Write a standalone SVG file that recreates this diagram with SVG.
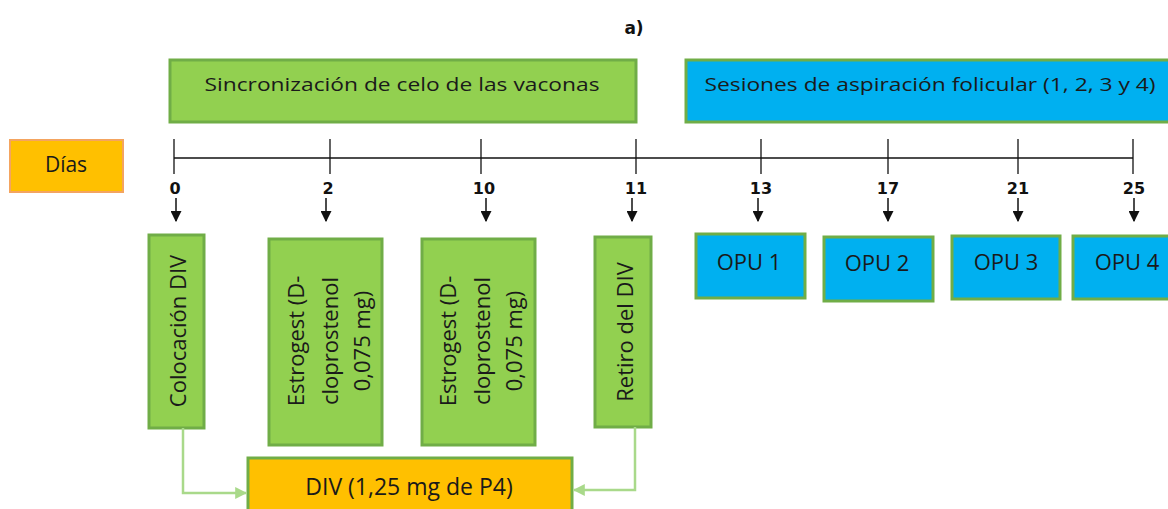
<svg xmlns="http://www.w3.org/2000/svg" width="1168" height="509" viewBox="0 0 1168 509">
  <style>
    .lbl { font-family: "Open Sans", "Noto Sans", sans-serif; font-size: 18px; fill: #1a1a1a; }
    .big { font-size: 22px; }
    .num { font-family: "DejaVu Sans", "Liberation Sans", sans-serif; font-size: 16px; font-weight: bold; fill: #111; }
    .green { fill: #92d050; stroke: #70ad47; stroke-width: 3; }
    .blue { fill: #00b0f0; stroke: #70ad47; stroke-width: 3; }
    .orange { fill: #ffc000; stroke: #f4a460; stroke-width: 2; }
    .div { fill: #ffc000; stroke: #70ad47; stroke-width: 3; }
    .axis { stroke: #111; stroke-width: 1.3; fill: none; }
    .down { stroke: #111; stroke-width: 1.5; fill: none; marker-end: url(#tri); }
    .link { stroke: #a9d98a; stroke-width: 2.5; fill: none; marker-end: url(#tri-green); }
  </style>
  <defs>
    <marker id="tri" viewBox="0 0 10 10" refX="9" refY="5" markerWidth="11" markerHeight="11" markerUnits="userSpaceOnUse" orient="auto">
      <path d="M0,0 L10,5 L0,10 z" fill="#111"/>
    </marker>
    <marker id="tri-green" viewBox="0 0 10 10" refX="9" refY="5" markerWidth="12" markerHeight="12" markerUnits="userSpaceOnUse" orient="auto">
      <path d="M0,0 L10,5 L0,10 z" fill="#a9d98a"/>
    </marker>
  </defs>

  <rect width="1168" height="509" fill="#ffffff"/>

  <text class="num" x="634" y="34" text-anchor="middle" style="font-size:17px">a)</text>

  <!-- phase headers -->
  <g id="sincronizacion">
    <rect class="green" x="170" y="60" width="466" height="62"/>
    <text class="lbl" x="402" y="91" text-anchor="middle" textLength="395" lengthAdjust="spacingAndGlyphs">Sincronización de celo de las vaconas</text>
  </g>
  <g id="sesiones">
    <rect class="blue" x="686" y="60" width="490" height="62"/>
    <text class="lbl" x="930" y="91" text-anchor="middle" textLength="451" lengthAdjust="spacingAndGlyphs">Sesiones de aspiración folicular (1, 2, 3 y 4)</text>
  </g>

  <g id="dias">
    <rect class="orange" x="10" y="140" width="113" height="52"/>
    <text class="lbl" x="66" y="172" text-anchor="middle" style="font-size:21px">Días</text>
  </g>

  <!-- timeline -->
  <g id="timeline">
    <line class="axis" x1="174" y1="158" x2="1133" y2="158"/>
    <line class="axis" x1="174" y1="139" x2="174" y2="174"/>
    <line class="axis" x1="330" y1="139" x2="330" y2="174"/>
    <line class="axis" x1="481" y1="139" x2="481" y2="174"/>
    <line class="axis" x1="636" y1="139" x2="636" y2="174"/>
    <line class="axis" x1="761" y1="139" x2="761" y2="174"/>
    <line class="axis" x1="888" y1="139" x2="888" y2="174"/>
    <line class="axis" x1="1018" y1="139" x2="1018" y2="174"/>
    <line class="axis" x1="1133" y1="139" x2="1133" y2="174"/>
    <text class="num" x="175" y="194" text-anchor="middle">0</text>
    <text class="num" x="328" y="194" text-anchor="middle">2</text>
    <text class="num" x="484" y="194" text-anchor="middle">10</text>
    <text class="num" x="636" y="194" text-anchor="middle">11</text>
    <text class="num" x="761" y="194" text-anchor="middle">13</text>
    <text class="num" x="888" y="194" text-anchor="middle">17</text>
    <text class="num" x="1018" y="194" text-anchor="middle">21</text>
    <text class="num" x="1134" y="194" text-anchor="middle">25</text>
  </g>

  <!-- event boxes -->
  <g id="colocacion">
    <rect class="green" x="149" y="235" width="55" height="193"/>
    <text class="lbl big" transform="translate(186,331) rotate(-90)" text-anchor="middle">Colocación DIV</text>
  </g>
  <g id="estrogest-1">
    <rect class="green" x="269" y="239" width="113" height="206"/>
    <text class="lbl big" transform="translate(304,341) rotate(-90)" text-anchor="middle">Estrogest (D-</text>
    <text class="lbl big" transform="translate(338,341) rotate(-90)" text-anchor="middle">cloprostenol</text>
    <text class="lbl big" transform="translate(370,341) rotate(-90)" text-anchor="middle">0,075 mg)</text>
  </g>
  <g id="estrogest-2">
    <rect class="green" x="422" y="239" width="113" height="206"/>
    <text class="lbl big" transform="translate(456,341) rotate(-90)" text-anchor="middle">Estrogest (D-</text>
    <text class="lbl big" transform="translate(490,341) rotate(-90)" text-anchor="middle">cloprostenol</text>
    <text class="lbl big" transform="translate(522,341) rotate(-90)" text-anchor="middle">0,075 mg)</text>
  </g>
  <g id="retiro">
    <rect class="green" x="595" y="237" width="56" height="190"/>
    <text class="lbl big" transform="translate(633,332) rotate(-90)" text-anchor="middle">Retiro del DIV</text>
  </g>

  <g id="opu-1">
    <rect class="blue" x="696" y="234" width="109" height="64"/>
    <text class="lbl big" x="749" y="270" text-anchor="middle">OPU 1</text>
  </g>
  <g id="opu-2">
    <rect class="blue" x="824" y="237" width="109" height="64"/>
    <text class="lbl big" x="877" y="271" text-anchor="middle">OPU 2</text>
  </g>
  <g id="opu-3">
    <rect class="blue" x="952" y="236" width="108" height="63"/>
    <text class="lbl big" x="1006" y="270" text-anchor="middle">OPU 3</text>
  </g>
  <g id="opu-4">
    <rect class="blue" x="1073" y="236" width="110" height="63"/>
    <text class="lbl big" x="1127" y="270" text-anchor="middle">OPU 4</text>
  </g>

  <g id="div">
    <rect class="div" x="248" y="458" width="324" height="60"/>
    <text class="lbl" x="409" y="495" text-anchor="middle" style="font-size:23px">DIV (1,25 mg de P4)</text>
  </g>

  <!-- connectors -->
  <g id="connectors">
    <line class="down" x1="176" y1="198" x2="176" y2="221"/>
    <line class="down" x1="326" y1="198" x2="326" y2="221"/>
    <line class="down" x1="486" y1="198" x2="486" y2="221"/>
    <line class="down" x1="632" y1="198" x2="632" y2="221"/>
    <line class="down" x1="758" y1="198" x2="758" y2="221"/>
    <line class="down" x1="888" y1="198" x2="888" y2="221"/>
    <line class="down" x1="1018" y1="198" x2="1018" y2="221"/>
    <line class="down" x1="1134" y1="198" x2="1134" y2="221"/>
    <path class="link" d="M183,428 V493 H246"/>
    <path class="link" d="M635,427 V490 H574"/>
  </g>
</svg>
